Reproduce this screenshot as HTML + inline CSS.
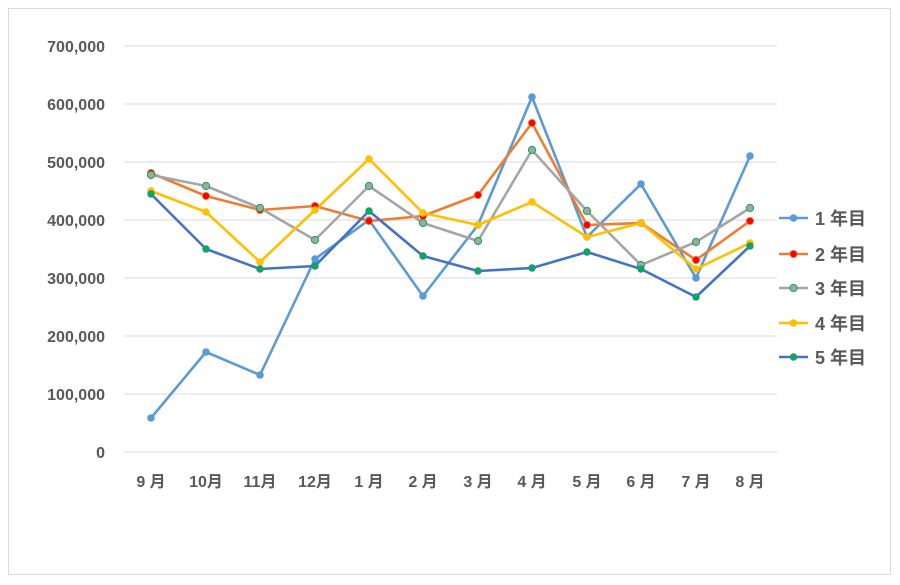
<!DOCTYPE html>
<html><head><meta charset="utf-8"><style>
body{margin:0;background:#fff}
svg{display:block;font-family:"Liberation Sans","Noto Sans CJK JP",sans-serif}
</style></head><body>
<svg width="900" height="585" viewBox="0 0 900 585">
<rect x="0" y="0" width="900" height="585" fill="#fff"/>
<rect x="8.5" y="8.5" width="882" height="566" fill="none" stroke="#d9d9d9"/>
<g stroke="#d9d9d9" stroke-width="1">
<line x1="124" x2="777" y1="46" y2="46"/><line x1="124" x2="777" y1="104" y2="104"/>
<line x1="124" x2="777" y1="162" y2="162"/><line x1="124" x2="777" y1="220" y2="220"/>
<line x1="124" x2="777" y1="278" y2="278"/><line x1="124" x2="777" y1="336" y2="336"/>
<line x1="124" x2="777" y1="394" y2="394"/><line x1="124" x2="777" y1="452" y2="452"/>
</g>
<g fill="#595959" font-size="16" font-weight="bold" text-anchor="end">
<text x="105" y="52">700,000</text><text x="105" y="110">600,000</text>
<text x="105" y="168">500,000</text><text x="105" y="226">400,000</text>
<text x="105" y="284">300,000</text><text x="105" y="342">200,000</text>
<text x="105" y="400">100,000</text><text x="105" y="458">0</text>
</g>
<g fill="#595959" font-size="16" font-weight="bold" text-anchor="middle">
<text x="151" y="487">9 月</text><text x="206" y="487">10月</text><text x="260" y="487">11月</text>
<text x="315" y="487">12月</text><text x="369" y="487">1 月</text><text x="423" y="487">2 月</text>
<text x="478" y="487">3 月</text><text x="532" y="487">4 月</text><text x="587" y="487">5 月</text>
<text x="641" y="487">6 月</text><text x="696" y="487">7 月</text><text x="750" y="487">8 月</text>
</g>
<g fill="none" stroke-width="2.6" stroke-linejoin="round">
<polyline stroke="#5b9bd5" points="151,418 206,352 260,375 315,259 369,220 423,296 478,225 532,97 587,237 641,184 696,278 750,156"/>
<polyline stroke="#ed7d31" points="151,173 206,196 260,210 315,206 369,221 423,216 478,195 532,123 587,225 641,223 696,260 750,221"/>
<polyline stroke="#a5a5a5" points="151,175 206,186 260,208 315,240 369,186 423,223 478,241 532,150 587,211 641,265 696,242 750,208"/>
<polyline stroke="#ffc000" points="151,191 206,212 260,262 315,210 369,159 423,213 478,225 532,202 587,237 641,223 696,269 750,243"/>
<polyline stroke="#4472c4" points="151,194 206,249 260,269 315,266 369,211 423,256 478,271 532,268 587,252 641,269 696,297 750,246"/>
</g>
<g fill="#5b9bd5">
<circle cx="151" cy="418" r="3.8"/><circle cx="206" cy="352" r="3.8"/><circle cx="260" cy="375" r="3.8"/><circle cx="315" cy="259" r="3.8"/><circle cx="369" cy="220" r="3.8"/><circle cx="423" cy="296" r="3.8"/><circle cx="478" cy="225" r="3.8"/><circle cx="532" cy="97" r="3.8"/><circle cx="587" cy="237" r="3.8"/><circle cx="641" cy="184" r="3.8"/><circle cx="696" cy="278" r="3.8"/><circle cx="750" cy="156" r="3.8"/>
</g>
<g fill="#ff0000" stroke="#ed7d31" stroke-width="0.8">
<circle cx="151" cy="173" r="3.6"/><circle cx="206" cy="196" r="3.6"/><circle cx="260" cy="210" r="3.6"/><circle cx="315" cy="206" r="3.6"/><circle cx="369" cy="221" r="3.6"/><circle cx="423" cy="216" r="3.6"/><circle cx="478" cy="195" r="3.6"/><circle cx="532" cy="123" r="3.6"/><circle cx="587" cy="225" r="3.6"/><circle cx="641" cy="223" r="3.6"/><circle cx="696" cy="260" r="3.6"/><circle cx="750" cy="221" r="3.6"/>
</g>
<g fill="#a5a5a5" stroke="#00b050" stroke-width="1">
<circle cx="151" cy="175" r="3.6"/><circle cx="206" cy="186" r="3.6"/><circle cx="260" cy="208" r="3.6"/><circle cx="315" cy="240" r="3.6"/><circle cx="369" cy="186" r="3.6"/><circle cx="423" cy="223" r="3.6"/><circle cx="478" cy="241" r="3.6"/><circle cx="532" cy="150" r="3.6"/><circle cx="587" cy="211" r="3.6"/><circle cx="641" cy="265" r="3.6"/><circle cx="696" cy="242" r="3.6"/><circle cx="750" cy="208" r="3.6"/>
</g>
<g fill="#ffc000">
<circle cx="151" cy="191" r="3.8"/><circle cx="206" cy="212" r="3.8"/><circle cx="260" cy="262" r="3.8"/><circle cx="315" cy="210" r="3.8"/><circle cx="369" cy="159" r="3.8"/><circle cx="423" cy="213" r="3.8"/><circle cx="478" cy="225" r="3.8"/><circle cx="532" cy="202" r="3.8"/><circle cx="587" cy="237" r="3.8"/><circle cx="641" cy="223" r="3.8"/><circle cx="696" cy="269" r="3.8"/><circle cx="750" cy="243" r="3.8"/>
</g>
<g fill="#00b050" stroke="#4472c4" stroke-width="0.6">
<circle cx="151" cy="194" r="3.4"/><circle cx="206" cy="249" r="3.4"/><circle cx="260" cy="269" r="3.4"/><circle cx="315" cy="266" r="3.4"/><circle cx="369" cy="211" r="3.4"/><circle cx="423" cy="256" r="3.4"/><circle cx="478" cy="271" r="3.4"/><circle cx="532" cy="268" r="3.4"/><circle cx="587" cy="252" r="3.4"/><circle cx="641" cy="269" r="3.4"/><circle cx="696" cy="297" r="3.4"/><circle cx="750" cy="246" r="3.4"/>
</g>
<g stroke-width="2.6">
<line x1="779" x2="808" y1="218" y2="218" stroke="#5b9bd5"/><circle cx="793.5" cy="218" r="3.8" fill="#5b9bd5"/>
<line x1="779" x2="808" y1="254" y2="254" stroke="#ed7d31"/><circle cx="793.5" cy="254" r="3.6" fill="#ff0000" stroke="#ed7d31" stroke-width="0.8"/>
<line x1="779" x2="808" y1="288" y2="288" stroke="#a5a5a5"/><circle cx="793.5" cy="288" r="3.6" fill="#a5a5a5" stroke="#00b050" stroke-width="1"/>
<line x1="779" x2="808" y1="323" y2="323" stroke="#ffc000"/><circle cx="793.5" cy="323" r="3.8" fill="#ffc000"/>
<line x1="779" x2="808" y1="357" y2="357" stroke="#4472c4"/><circle cx="793.5" cy="357" r="3.4" fill="#00b050" stroke="#4472c4" stroke-width="0.6"/>
</g>
<g fill="#595959" font-size="18" font-weight="bold">
<text x="815" y="225">1 年目</text><text x="815" y="261">2 年目</text><text x="815" y="295">3 年目</text>
<text x="815" y="330">4 年目</text><text x="815" y="364">5 年目</text>
</g>
</svg>
</body></html>
